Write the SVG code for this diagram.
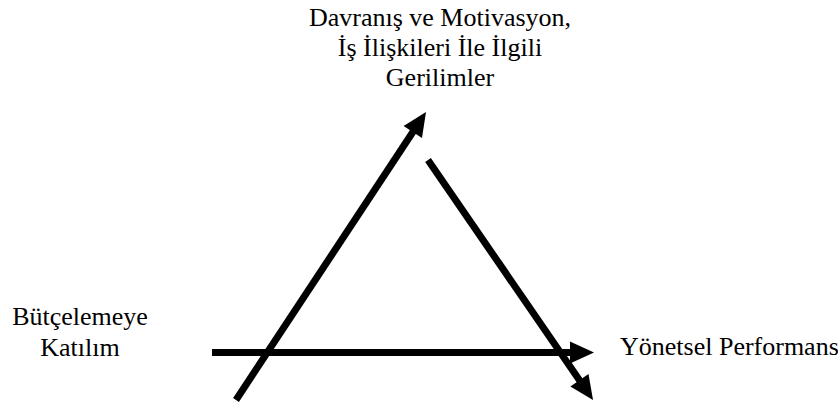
<svg xmlns="http://www.w3.org/2000/svg" width="838" height="407" viewBox="0 0 838 407">
<style>
.t{font-family:'Liberation Serif','Times New Roman',Times,serif;font-size:26px;fill:#000}
.c{stroke:#000;stroke-width:7;fill:none}
</style>
<defs>
<marker id="ah" markerUnits="userSpaceOnUse" markerWidth="26" markerHeight="24" refX="4" refY="11" orient="auto" overflow="visible">
<path d="M0,0 L24,11 L0,22 Z" fill="#000"/>
</marker>
</defs>
<rect width="838" height="407" fill="#fff"/>
<g id="connectors">
<line class="c" x1="236" y1="400" x2="415" y2="128.7" marker-end="url(#ah)"/>
<line class="c" x1="428" y1="160" x2="581.7" y2="383.5" marker-end="url(#ah)"/>
<line class="c" x1="212" y1="352.5" x2="574" y2="352.5" marker-end="url(#ah)"/>
</g>
<g id="top" text-anchor="middle">
<text class="t" x="440" y="26">Davranış ve Motivasyon,</text>
<text class="t" x="440" y="56">İş İlişkileri İle İlgili</text>
<text class="t" x="440" y="86">Gerilimler</text>
</g>
<g id="left" text-anchor="middle">
<text class="t" x="80" y="325">Bütçelemeye</text>
<text class="t" x="80" y="356">Katılım</text>
</g>
<g id="right">
<text class="t" x="620" y="355">Yönetsel Performans</text>
</g>
</svg>
